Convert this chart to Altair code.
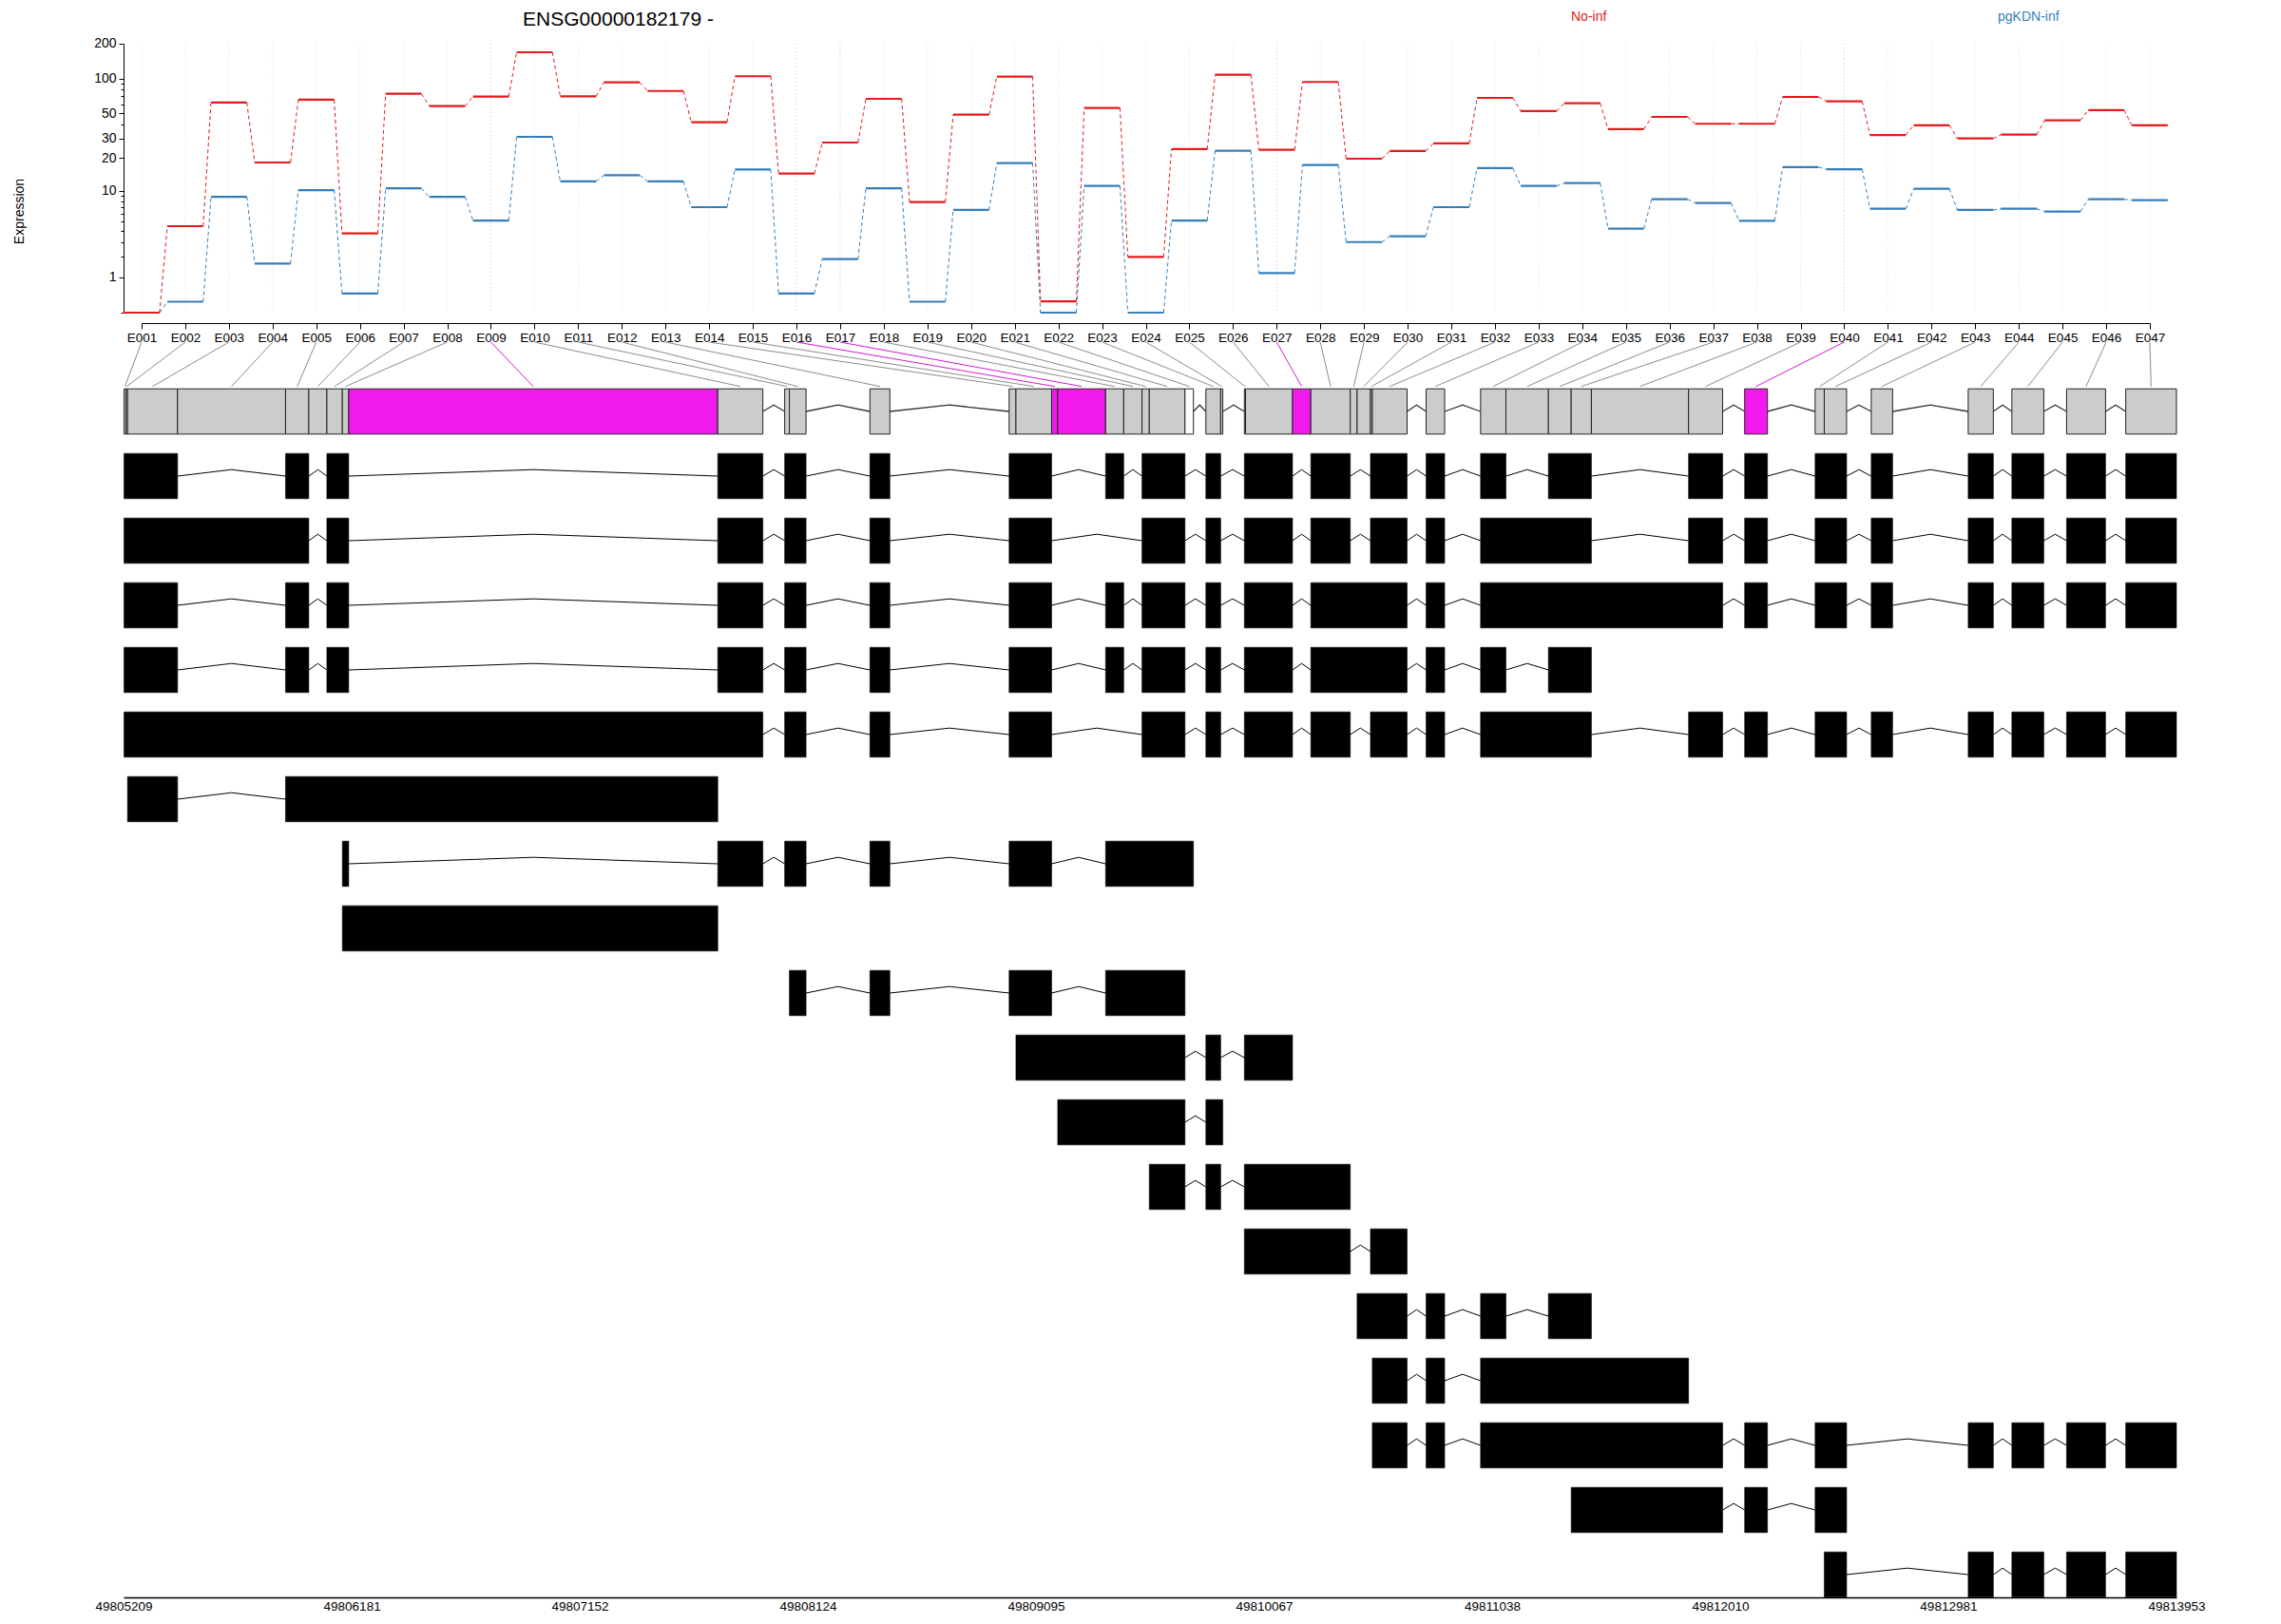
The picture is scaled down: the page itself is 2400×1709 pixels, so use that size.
import json
import altair as alt
import pandas as pd

# ---------------- data ----------------
exons = [f"E{i:03d}" for i in range(1, 48)]
conditions = ["No-inf", "pgKDN-inf"]
cond_colors = ["#E41A1C", "#377EB8"]

noinf = [0, 4.5, 62, 18.3, 65.5, 3.76, 73.8, 57.6, 69.7, 168.5,
         70, 92.7, 78, 41.6, 104.6, 14.5, 27.6, 66.7, 7.84, 48.5,
         103.8, 0.25, 55.5, 2.0, 24.1, 107.9, 23.8, 93.4, 19.8, 23.2,
         27.1, 68, 52.1, 61.1, 36.2, 46.4, 40.4, 40.4, 69.3, 63.4,
         32.2, 39.1, 30, 32.4, 43.3, 53.1, 39.1]
pgkdn = [0, 0.24, 8.8, 1.63, 10.2, 0.46, 10.6, 8.8, 5.15, 31,
         12.3, 14.0, 12.3, 7.0, 15.8, 0.46, 1.87, 10.6, 0.24, 6.57,
         18.05, 0, 11.15, 0, 5.15, 23.3, 1.18, 17.4, 3.02, 3.5,
         7.0, 16.3, 11.15, 11.85, 4.23, 8.35, 7.67, 5.12, 16.6, 15.9,
         6.75, 10.5, 6.57, 6.75, 6.33, 8.35, 8.18]

part_start = [49805211, 49805219, 49805226, 49805439, 49805899, 49805998, 49806075, 49806141,
              49806168, 49807740, 49808025, 49808045, 49808388, 49808981, 49809010, 49809162,
              49809188, 49809392, 49809469, 49809547, 49809578, 49809730, 49809819, 49809882,
              49809983, 49809988, 49810188, 49810266, 49810434, 49810463, 49810520, 49810528,
              49810757, 49810989, 49811097, 49811278, 49811375, 49811461, 49811875, 49812114,
              49812414, 49812453, 49812653, 49813066, 49813252, 49813485, 49813737]
part_end = [49805219, 49805226, 49805439, 49805899, 49805998, 49806075, 49806141, 49806168,
            49807740, 49807932, 49808045, 49808116, 49808473, 49809010, 49809162, 49809188,
            49809392, 49809469, 49809547, 49809578, 49809730, 49809766, 49809882, 49809891,
            49809988, 49810188, 49810266, 49810434, 49810463, 49810520, 49810528, 49810676,
            49810836, 49811097, 49811278, 49811375, 49811461, 49811875, 49812020, 49812211,
            49812453, 49812548, 49812744, 49813173, 49813388, 49813651, 49813953]
sig_exons = ["E009", "E016", "E017", "E027", "E040"]
untested_exons = ["E022"]

transcripts = [
    "E001-E003 E005 E007-E008 E010 E011-E012 E013 E014-E015 E018 E020-E021 E023 E025-E026 E028 E031-E032 E033 E034 E036-E037 E039 E040 E041-E042 E043 E044 E045 E046 E047",
    "E001-E005 E007-E008 E010 E011-E012 E013 E014-E015 E020-E021 E023 E025-E026 E028 E031-E032 E033 E034-E037 E039 E040 E041-E042 E043 E044 E045 E046 E047",
    "E001-E003 E005 E007-E008 E010 E011-E012 E013 E014-E015 E018 E020-E021 E023 E025-E026 E028-E032 E033 E034-E039 E040 E041-E042 E043 E044 E045 E046 E047",
    "E001-E003 E005 E007-E008 E010 E011-E012 E013 E014-E015 E018 E020-E021 E023 E025-E026 E028-E032 E033 E034 E036-E037",
    "E001-E010 E011-E012 E013 E014-E015 E020-E021 E023 E025-E026 E028 E031-E032 E033 E034-E037 E039 E040 E041-E042 E043 E044 E045 E046 E047",
    "E003 E005-E009",
    "E008 E010 E011-E012 E013 E014-E015 E018-E022",
    "E008-E009",
    "E012 E013 E014-E015 E018-E021",
    "E015-E021 E023 E025-E026",
    "E017-E021 E023-E024",
    "E021 E023 E025-E028",
    "E025-E028 E031-E032",
    "E030-E032 E033 E034 E036-E037",
    "E032 E033 E034-E038",
    "E032 E033 E034-E039 E040 E041-E042 E044 E045 E046 E047",
    "E037-E039 E040 E041-E042",
    "E042 E044 E045 E046 E047",
]

genomic_ticks = [49805209, 49806181, 49807152, 49808124, 49809095,
                 49810067, 49811038, 49812010, 49812981, 49813953]
y_major = [1, 10, 20, 30, 50, 100, 200]
y_minor = [0, 2, 3, 4, 5, 6, 7, 8, 9, 40, 60, 70, 80, 90]

gene_id = "ENSG00000182179 -"

# ---------------- layout / scales ----------------
W, H = 2160, 1643
FONT = "Liberation Sans"
XE_DOM, XE_RNG = [1, 47], [19, 2132]
XG_DOM, XG_RNG = [49805209, 49813953], [0, W]
XE = alt.Scale(domain=XE_DOM, range=XE_RNG, nice=False, zero=False)
YE = alt.Scale(type="symlog", constant=1, domain=[0, 200], range=[291, 7.9], nice=False, zero=False)
XG = alt.Scale(domain=XG_DOM, range=XG_RNG, nice=False, zero=False)
YG = alt.Scale(domain=[0, 18], range=[395, 1619], nice=False, zero=False)
HW = 0.41          # half width of expression segments (exon units)
BOX = 0.35         # half height of gene boxes (row units)
APEX = 0.1         # intron apex height (row units)
LBL_TOP, LBL_BOT = -1.0735, -0.387

# ---------------- frames ----------------
idx = list(range(1, 48))
seg_rows, con_rows = [], []
for cond, vals in zip(conditions, [noinf, pgkdn]):
    for i, v in zip(idx, vals):
        seg_rows.append(dict(cond=cond, x0=i - HW, x1=i + HW, v=v))
    for k in range(len(idx) - 1):
        con_rows.append(dict(cond=cond, xa=idx[k] + HW, xb=idx[k + 1] - HW, va=vals[k], vb=vals[k + 1]))
seg = pd.DataFrame(seg_rows)
con = pd.DataFrame(con_rows)


def status_col(e):
    if e in sig_exons:
        return "#F219ED"
    if e in untested_exons:
        return "#FFFFFF"
    return "#CCCCCC"


grid = pd.DataFrame([dict(idx=i, top=200, bot=0,
                          col="#F219ED" if e in sig_exons else "#B3B3B3")
                     for i, e in zip(idx, exons)])

parts = pd.DataFrame(dict(exon=exons, start=part_start, end=part_end))
parts["fill"] = [status_col(e) for e in exons]
parts["y0"] = -BOX
parts["y1"] = BOX


def exon_px(i):
    return XE_RNG[0] + (i - XE_DOM[0]) * (XE_RNG[1] - XE_RNG[0]) / (XE_DOM[1] - XE_DOM[0])


def px_to_g(p):
    return XG_DOM[0] + (p - XG_RNG[0]) * (XG_DOM[1] - XG_DOM[0]) / (XG_RNG[1] - XG_RNG[0])


links = pd.DataFrame([dict(gx=px_to_g(exon_px(i)), cx=(s + e2) / 2, ya=LBL_TOP, yb=LBL_BOT,
                           col="#D21CCF" if e in sig_exons else "#8C8C8C")
                      for i, e, s, e2 in zip(idx, exons, part_start, part_end)])


def zigzag(blocks, row, tag):
    out = []
    for n in range(len(blocks) - 1):
        a, b = blocks[n][1], blocks[n + 1][0]
        if b > a:
            for k, (g, y) in enumerate([(a, row), ((a + b) / 2, row - APEX), (b, row)]):
                out.append(dict(id=f"{tag}_{n}", k=k, g=g, y=y))
    return out


gene_blocks = list(zip(part_start, part_end))
gene_introns = pd.DataFrame(zigzag(gene_blocks, 0, "g"))

pos = {e: n for n, e in enumerate(exons)}
tx_ex_rows, tx_in_rows = [], []
for r, spec in enumerate(transcripts, start=1):
    ids = []
    for tok in spec.split():
        a, _, b = tok.partition("-")
        b = b or a
        ids.extend(range(pos[a], pos[b] + 1))
    blocks = []
    for p in ids:
        s, e = part_start[p], part_end[p]
        if blocks and blocks[-1][1] == s:
            blocks[-1][1] = e
        else:
            blocks.append([s, e])
    for s, e in blocks:
        tx_ex_rows.append(dict(row=r, start=s, end=e, y0=r - BOX, y1=r + BOX))
    tx_in_rows.extend(zigzag(blocks, r, f"t{r}"))
tx_ex = pd.DataFrame(tx_ex_rows)
tx_in = pd.DataFrame(tx_in_rows)

# ---------------- axes ----------------
main_y_axis = alt.Axis(orient="left", values=y_major, format="d", tickSize=5, labelPadding=3,
                       labelFontSize=14, labelColor="black", tickColor="black", domainColor="black",
                       grid=False, title="Expression", titleFontSize=14, titleFontWeight="normal",
                       titleAngle=270, titleX=-110, titleY=184, titleAlign="center",
                       titleBaseline="middle", titleColor="black")
minor_y_axis = alt.Axis(orient="left", values=y_minor, labels=False, tickSize=3, domain=False,
                        grid=False, title=None, tickColor="black")
exon_axis = alt.Axis(orient="bottom", offset=-1341, values=idx,
                     labelExpr=f"{json.dumps(exons)}[datum.value - 1]",
                     tickSize=6, labelPadding=2, labelFontSize=13.5, labelColor="black",
                     tickColor="black", domainColor="black", grid=False, title=None,
                     labelFlush=False, labelOverlap=False)
genomic_axis = alt.Axis(orient="bottom", values=genomic_ticks, format="d", ticks=False,
                        labelPadding=2, labelFontSize=13.5, labelColor="black",
                        domainColor="black", domainWidth=1.5, grid=False, title=None,
                        labelFlush=False, labelOverlap=False)
# top axis used only to carry the gene title
title_axis = alt.Axis(orient="top", labels=False, ticks=False, domain=False, grid=False,
                      title=gene_id, titleX=520, titleY=-18, titleAlign="center",
                      titleBaseline="middle", titleFontSize=21, titleFontWeight="normal",
                      titleColor="black", titleFont=FONT)


def cond_color(cond, color, lx):
    return alt.Color("cond:N", scale=alt.Scale(domain=[cond], range=[color]),
                     legend=alt.Legend(orient="none", legendX=lx, legendY=-27, title=None,
                                       symbolOpacity=0, symbolSize=0, labelOffset=0,
                                       labelColor=color, labelFontSize=14, labelFont=FONT,
                                       padding=0))


# ---------------- layers ----------------
grid_layer = alt.Chart(grid).mark_rule(strokeDash=[1, 3], strokeWidth=1, opacity=0.45).encode(
    x=alt.X("idx:Q", scale=XE, axis=None),
    y=alt.Y("top:Q", scale=YE, axis=None), y2="bot:Q",
    color=alt.Color("col:N", scale=None))

layers_expr = [grid_layer]
for n, (cond, color, lx) in enumerate([(conditions[1], cond_colors[1], 1958),
                                        (conditions[0], cond_colors[0], 1509)]):
    c = con[con.cond == cond]
    s = seg[seg.cond == cond]
    layers_expr.append(alt.Chart(c).mark_rule(strokeDash=[4, 3], strokeWidth=1, color=color).encode(
        x=alt.X("xa:Q", scale=XE, axis=None), x2="xb:Q",
        y=alt.Y("va:Q", scale=YE, axis=minor_y_axis if n == 0 else None), y2="vb:Q"))
    layers_expr.append(alt.Chart(s).mark_rule(strokeWidth=2.2).encode(
        x=alt.X("x0:Q", scale=XE, axis=exon_axis if n == 1 else None), x2="x1:Q",
        y=alt.Y("v:Q", scale=YE, axis=main_y_axis if n == 1 else None),
        color=cond_color(cond, color, lx)))

link_layer = alt.Chart(links).mark_rule(strokeWidth=1).encode(
    x=alt.X("gx:Q", scale=XG, axis=None), x2="cx:Q",
    y=alt.Y("ya:Q", scale=YG, axis=None), y2="yb:Q",
    color=alt.Color("col:N", scale=None))

gene_intron_layer = alt.Chart(gene_introns).mark_line(color="#333333", strokeWidth=1.3).encode(
    x=alt.X("g:Q", scale=XG, axis=None), y=alt.Y("y:Q", scale=YG, axis=None),
    detail="id:N", order="k:Q")

parts_layer = alt.Chart(parts).mark_rect(stroke="#222222", strokeWidth=1).encode(
    x=alt.X("start:Q", scale=XG, axis=title_axis), x2="end:Q",
    y=alt.Y("y0:Q", scale=YG, axis=None), y2="y1:Q",
    fill=alt.Fill("fill:N", scale=None))

tx_intron_layer = alt.Chart(tx_in).mark_line(color="black", strokeWidth=1).encode(
    x=alt.X("g:Q", scale=XG, axis=None), y=alt.Y("y:Q", scale=YG, axis=None),
    detail="id:N", order="k:Q")

tx_exon_layer = alt.Chart(tx_ex).mark_rect(color="black", stroke="black", strokeWidth=0.6).encode(
    x=alt.X("start:Q", scale=XG, axis=genomic_axis), x2="end:Q",
    y=alt.Y("y0:Q", scale=YG, axis=None), y2="y1:Q")

chart = alt.layer(*layers_expr, link_layer, gene_intron_layer, parts_layer,
                  tx_intron_layer, tx_exon_layer).resolve_scale(
    x="independent", y="independent", color="independent", fill="independent"
).properties(
    width=W, height=H,
    autosize=alt.AutoSizeParams(type="none"),
    padding={"left": 122, "top": 30, "right": 102, "bottom": 24},
).configure(font=FONT).configure_view(stroke=None).configure_axis(labelFont=FONT, titleFont=FONT)

chart.save("out.html", embed_options={"renderer": "svg", "actions": False})
